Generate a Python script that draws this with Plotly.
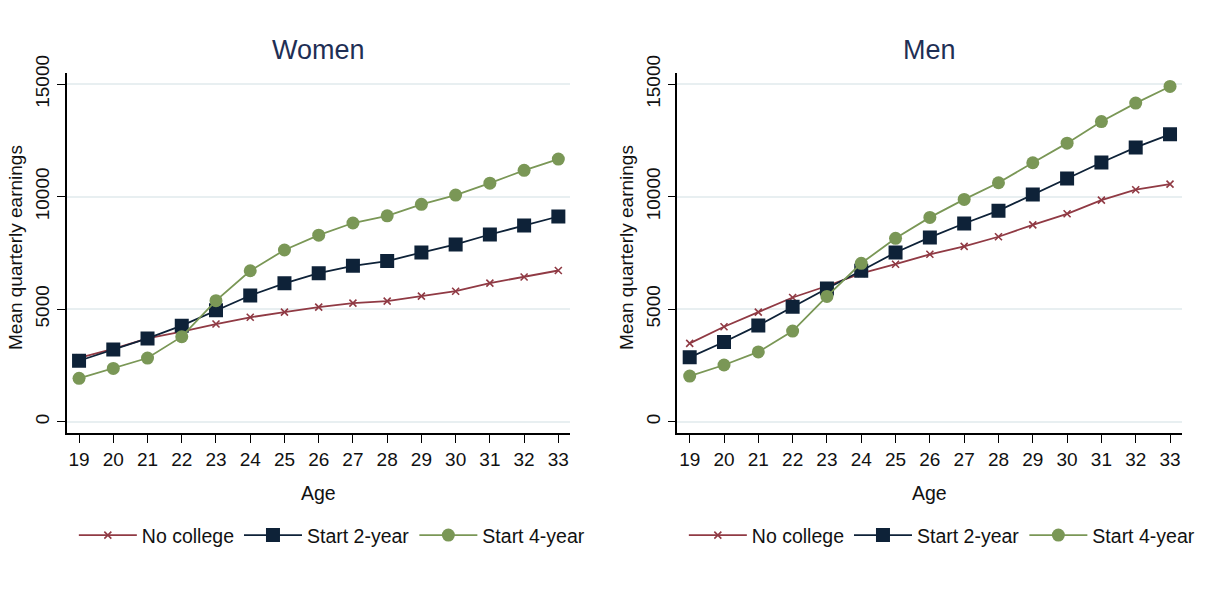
import plotly.graph_objects as go

# Ages on the horizontal axis
ages = list(range(19, 34))

# Women: mean quarterly earnings by age
women_no_college = [2840, 3240, 3700, 4000, 4340, 4640, 4870, 5090, 5270, 5360, 5580, 5800, 6160, 6430, 6720]
women_start_2yr = [2710, 3210, 3700, 4270, 4950, 5610, 6150, 6600, 6930, 7140, 7520, 7880, 8320, 8720, 9120]
women_start_4yr = [1930, 2370, 2830, 3780, 5380, 6710, 7630, 8290, 8830, 9150, 9660, 10070, 10600, 11170, 11670]

# Men: mean quarterly earnings by age
men_no_college = [3480, 4220, 4870, 5520, 6030, 6590, 7000, 7440, 7790, 8220, 8750, 9240, 9850, 10310, 10560]
men_start_2yr = [2860, 3540, 4280, 5110, 5920, 6710, 7520, 8190, 8810, 9380, 10100, 10810, 11520, 12190, 12770]
men_start_4yr = [2030, 2520, 3100, 4030, 5570, 7040, 8150, 9080, 9880, 10620, 11510, 12380, 13340, 14160, 14900]

y_ticks = [0, 5000, 10000, 15000]
y_tick_labels = ["0", "5000", "10000", "15000"]
series_names = ["No college", "Start 2-year", "Start 4-year"]

RED = "#903a44"
NAVY = "#0e2238"
GREEN = "#7a9756"
TITLE_COLOR = "#1f2f55"
GRID = "#e8eff1"
FONT = "Liberation Sans, Arial, sans-serif"

styles = [
    dict(color=RED, marker=dict(symbol="x-thin", size=7, line=dict(color=RED, width=1.6))),
    dict(color=NAVY, marker=dict(symbol="square", size=14, color=NAVY)),
    dict(color=GREEN, marker=dict(symbol="circle", size=13, color=GREEN)),
]

fig = go.Figure()

panels = [
    ("x", "y", "legend", [women_no_college, women_start_2yr, women_start_4yr]),
    ("x2", "y2", "legend2", [men_no_college, men_start_2yr, men_start_4yr]),
]
for xa, ya, leg, series in panels:
    for name, vals, st in zip(series_names, series, styles):
        fig.add_trace(go.Scatter(
            x=ages, y=vals, name=name, mode="lines+markers",
            line=dict(color=st["color"], width=1.8),
            marker=st["marker"],
            xaxis=xa, yaxis=ya, legend=leg,
        ))

axis_common = dict(
    showline=True, linecolor="black", linewidth=1.5,
    ticks="outside", ticklen=8, tickwidth=1.3, tickcolor="black",
    tickfont=dict(family=FONT, size=19, color="#111111"),
    zeroline=False, automargin=False,
)
x_common = dict(axis_common, range=[18.64, 33.34], tickmode="array",
                tickvals=ages, ticktext=[str(a) for a in ages], showgrid=False)
y_common = dict(axis_common, range=[-516, 15511], tickmode="array",
                tickvals=y_ticks, ticktext=y_tick_labels, tickangle=-90,
                showgrid=True, gridcolor=GRID, gridwidth=1.5)

y_dom = [0.2668, 0.877]
legend_common = dict(orientation="h", y=0.094, xanchor="center", yanchor="middle",
                     font=dict(family=FONT, size=19.5, color="#111111"),
                     itemwidth=58, tracegroupgap=0, bgcolor="rgba(0,0,0,0)")
fig.update_layout(
    width=1220, height=591,
    margin=dict(l=0, r=0, t=0, b=0),
    paper_bgcolor="white", plot_bgcolor="white",
    font=dict(family=FONT, color="#111111"),
    xaxis=dict(x_common, domain=[0.0547, 0.4672], anchor="y"),
    yaxis=dict(y_common, domain=y_dom, anchor="x"),
    xaxis2=dict(x_common, domain=[0.5552, 0.9686], anchor="y2"),
    yaxis2=dict(y_common, domain=y_dom, anchor="x2"),
    legend=dict(legend_common, x=0.272),
    legend2=dict(legend_common, x=0.772),
    showlegend=True,
)

annotations = [
    dict(text="Women", x=0.2607, y=0.9154, font=dict(size=27, color=TITLE_COLOR)),
    dict(text="Men", x=0.7619, y=0.9154, font=dict(size=27, color=TITLE_COLOR)),
    dict(text="Age", x=0.2607, y=(591 - 493) / 591, font=dict(size=19.5)),
    dict(text="Age", x=0.7619, y=(591 - 493) / 591, font=dict(size=19.5)),
    dict(text="Mean quarterly earnings", x=16 / 1220, y=(591 - 248) / 591,
         textangle=-90, font=dict(size=19)),
    dict(text="Mean quarterly earnings", x=627 / 1220, y=(591 - 248) / 591,
         textangle=-90, font=dict(size=19)),
]
for a in annotations:
    a.update(xref="paper", yref="paper", showarrow=False,
             xanchor="center", yanchor="middle")
    a["font"] = dict(family=FONT, color=a["font"].get("color", "#111111"), size=a["font"]["size"])
    fig.add_annotation(**a)

fig.write_html("out.html")
